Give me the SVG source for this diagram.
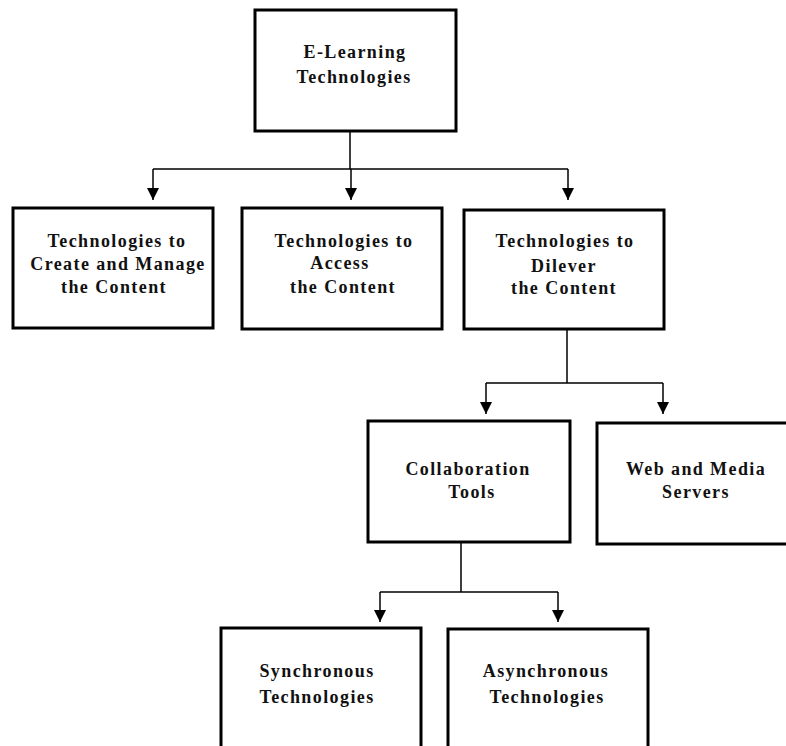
<svg xmlns="http://www.w3.org/2000/svg" width="786" height="746" viewBox="0 0 786 746">
<style>
.box{fill:#fff;stroke:#000;stroke-width:3}
.lbl{font-family:"Liberation Serif","Times New Roman",serif;font-weight:bold;font-size:18px;letter-spacing:1.4px;text-anchor:middle;fill:#111}
.con{fill:none;stroke:#000;stroke-width:1.5}
</style>
<defs>
<marker id="arr" markerUnits="userSpaceOnUse" markerWidth="14" markerHeight="12" refX="12" refY="6" orient="auto">
<path d="M0,0 L12,6 L0,12 Z" fill="#000"/>
</marker>
</defs>
<rect width="786" height="746" fill="#fff"/>
<g id="connectors">
<path class="con" d="M350,131 V169 M153,169 H568"/>
<path class="con" d="M153,169 V200" marker-end="url(#arr)"/>
<path class="con" d="M351,169 V200" marker-end="url(#arr)"/>
<path class="con" d="M568,169 V200" marker-end="url(#arr)"/>
<path class="con" d="M567,330 V383 M486,383 H663"/>
<path class="con" d="M486,383 V414" marker-end="url(#arr)"/>
<path class="con" d="M663,383 V414" marker-end="url(#arr)"/>
<path class="con" d="M461,542 V592 M380,592 H558"/>
<path class="con" d="M380,592 V622" marker-end="url(#arr)"/>
<path class="con" d="M558,592 V622" marker-end="url(#arr)"/>
</g>
<g id="n-elearning">
<rect class="box" x="255" y="10" width="201" height="121"/>
<text class="lbl" x="355" y="58">E-Learning</text>
<text class="lbl" x="354" y="83">Technologies</text>
</g>
<g id="n-create">
<rect class="box" x="13" y="208" width="200" height="120"/>
<text class="lbl" x="117" y="247">Technologies to</text>
<text class="lbl" x="118" y="270">Create and Manage</text>
<text class="lbl" x="114" y="293">the Content</text>
</g>
<g id="n-access">
<rect class="box" x="242" y="208" width="200" height="121"/>
<text class="lbl" x="344" y="247">Technologies to</text>
<text class="lbl" x="340" y="269">Access</text>
<text class="lbl" x="343" y="293">the Content</text>
</g>
<g id="n-deliver">
<rect class="box" x="464" y="210" width="200" height="119"/>
<text class="lbl" x="565" y="247">Technologies to</text>
<text class="lbl" x="564" y="272">Dilever</text>
<text class="lbl" x="564" y="294">the Content</text>
</g>
<g id="n-collab">
<rect class="box" x="368" y="421" width="202" height="121"/>
<text class="lbl" x="468" y="475">Collaboration</text>
<text class="lbl" x="472" y="498">Tools</text>
</g>
<g id="n-web">
<rect class="box" x="597" y="423" width="200" height="121"/>
<text class="lbl" x="696" y="475">Web and Media</text>
<text class="lbl" x="696" y="498">Servers</text>
</g>
<g id="n-sync">
<rect class="box" x="221" y="628" width="200" height="130"/>
<text class="lbl" x="317" y="677">Synchronous</text>
<text class="lbl" x="317" y="703">Technologies</text>
</g>
<g id="n-async">
<rect class="box" x="448" y="629" width="200" height="130"/>
<text class="lbl" x="546" y="677">Asynchronous</text>
<text class="lbl" x="547" y="703">Technologies</text>
</g>
</svg>
